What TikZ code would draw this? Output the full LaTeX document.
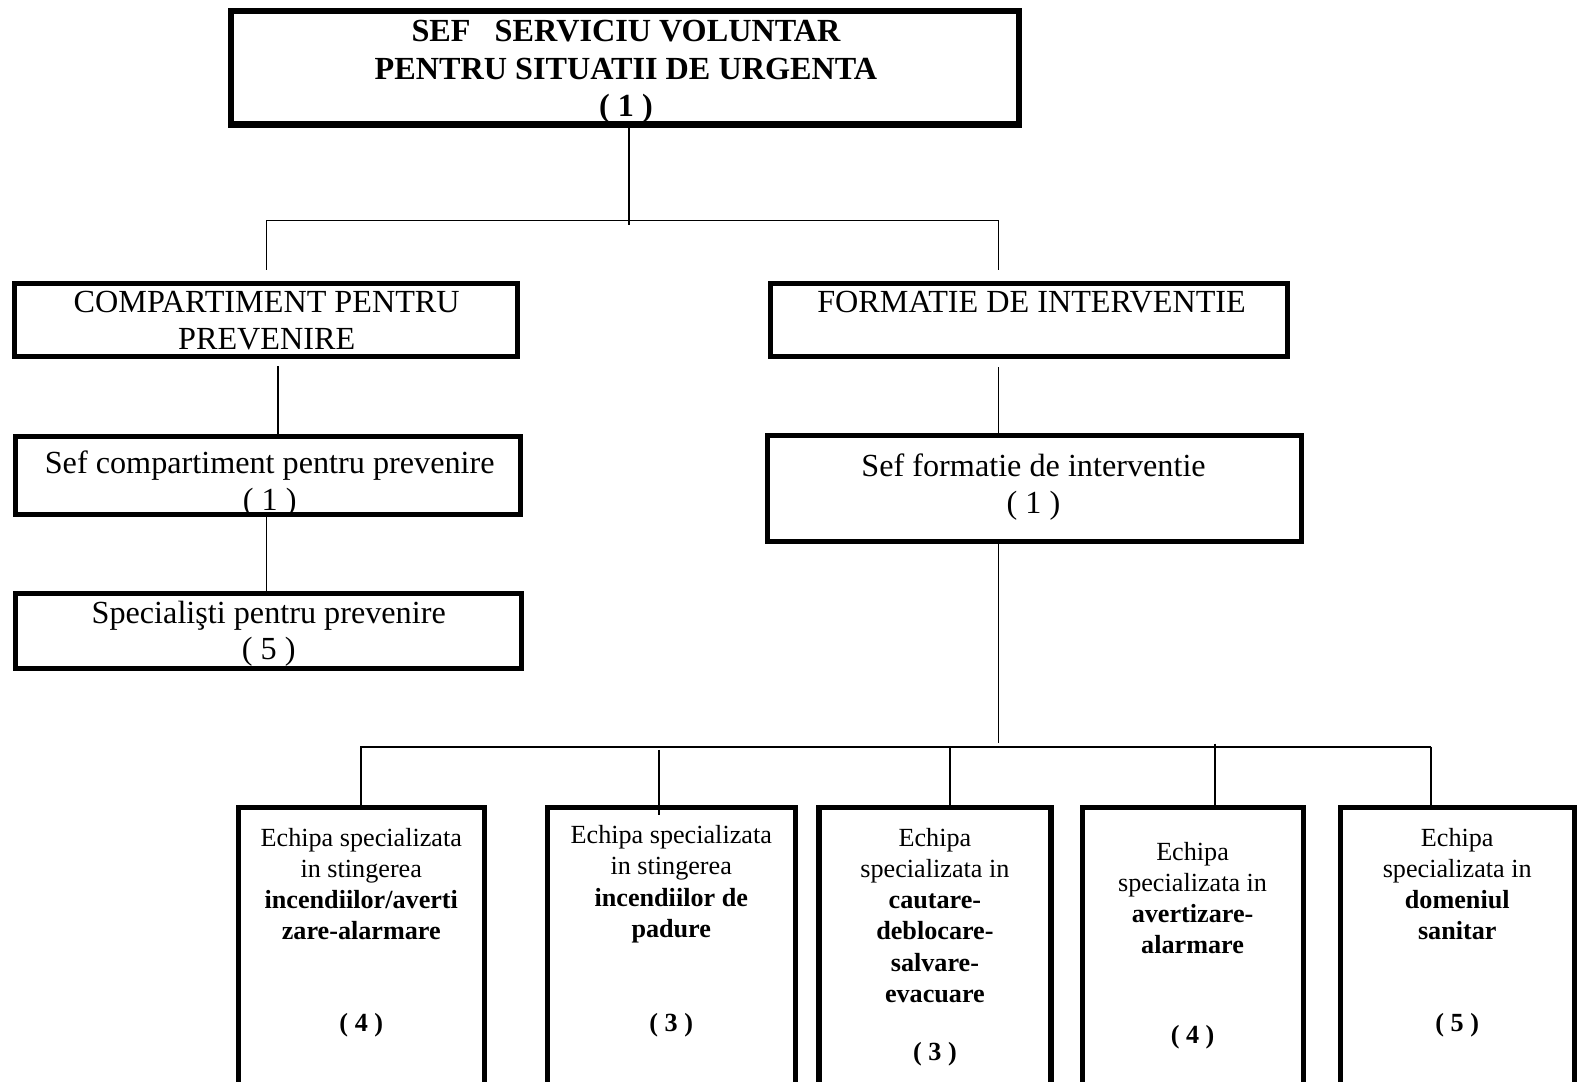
\documentclass[tikz,border=0pt]{standalone}
\usepackage{fontspec}
\setmainfont{Liberation Serif}
\begin{document}
\begin{tikzpicture}[x=0.5pt,y=-0.5pt]
\tikzset{
  box/.style={draw, line width=2.6pt, inner sep=0pt},
  topbox/.style={draw, line width=3.2pt, inner sep=0pt},
  conn/.style={line width=0.8pt},
  txt/.style={align=center, inner sep=0pt},
  bigb/.style={txt, font=\fontsize{16}{18.75}\selectfont\bfseries},
  mid/.style={txt, font=\fontsize{16}{18}\selectfont},
  small/.style={txt, font=\fontsize{13}{15.5}\selectfont},
  smallb/.style={txt, font=\fontsize{13}{15.5}\selectfont\bfseries},
}
\useasboundingbox (0,0) rectangle (1568,1075);
\clip (0,0) rectangle (1568,1075);

% boxes
\node[topbox, minimum width=391.7pt, minimum height=56.3pt] (top) at (621,67.5) {};
\node[box, minimum width=249.8pt, minimum height=36.3pt] (comp) at (264.5,318) {};
\node[box, minimum width=256.8pt, minimum height=36.3pt] (form) at (1022.5,318) {};
\node[box, minimum width=250.8pt, minimum height=38.8pt] (sefc) at (266.5,472.5) {};
\node[box, minimum width=251.3pt, minimum height=37.3pt] (spec) at (267,627) {};
\node[box, minimum width=265.3pt, minimum height=52.8pt] (seff) at (1028,485.5) {};
\node[box, minimum width=122.3pt, minimum height=157.3pt] (b1) at (359,960) {};
\node[box, minimum width=123.3pt, minimum height=157.3pt] (b2) at (667,960) {};
\node[box, minimum width=115.3pt, minimum height=157.3pt] (b3) at (929,960) {};
\node[box, minimum width=109.8pt, minimum height=157.3pt] (b4) at (1185.5,960) {};
\node[box, minimum width=116.3pt, minimum height=157.3pt] (b5) at (1448,960) {};

% texts
\node[bigb] (toptxt) at (622,71.5) {SEF\ \ \ SERVICIU VOLUNTAR\\PENTRU SITUATII DE URGENTA\\( 1 )};
\node[mid] (comptxt) at (265,318.5) {COMPARTIMENT PENTRU\\PREVENIRE};
\node[mid] (formtxt) at (1025,300) {FORMATIE DE INTERVENTIE};
\node[mid] (sefctxt) at (268,481) {Sef compartiment pentru prevenire\\( 1 )};
\node[mid] (spectxt) at (267,630) {Specialişti pentru prevenire\\( 5 )};
\node[mid] (sefftxt) at (1027,484) {Sef formatie de interventie\\( 1 )};

\node[small] (b1txt) at (359,878.5) {Echipa specializata\\in stingerea\\\textbf{incendiilor/averti}\\\textbf{zare-alarmare}};
\node[smallb] (b1num) at (359,1019) {( 4 )};
\node[small] (b2txt) at (667,878.5) {Echipa specializata\\in stingerea\\\textbf{incendiilor de}\\\textbf{padure}};
\node[smallb] (b2num) at (667,1019) {( 3 )};
\node[small] (b3txt) at (929,909.5) {Echipa\\specializata in\\\textbf{cautare-}\\\textbf{deblocare-}\\\textbf{salvare-}\\\textbf{evacuare}};
\node[smallb] (b3num) at (929,1048) {( 3 )};
\node[small] (b4txt) at (1185,892.5) {Echipa\\specializata in\\\textbf{avertizare-}\\\textbf{alarmare}};
\node[smallb] (b4num) at (1185,1031) {( 4 )};
\node[small] (b5txt) at (1448,878.5) {Echipa\\specializata in\\\textbf{domeniul}\\\textbf{sanitar}};
\node[smallb] (b5num) at (1448,1019) {( 5 )};

% junction coordinates
\coordinate (t0) at (625,224);
\coordinate (tl) at (265,219);
\coordinate (tr) at (992,219);
\coordinate (tle) at (265,268);
\coordinate (tre) at (992,268);
\coordinate (c1) at (276,364);
\coordinate (c2) at (276,431);
\coordinate (s1) at (265,0);
\coordinate (f1) at (992,365);
\coordinate (f2) at (992,430);
\coordinate (f3) at (992,738);
\coordinate (hl) at (358,742);
\coordinate (hr) at (1422,742);
\coordinate (v1) at (359,742);
\coordinate (v1e) at (359,802);
\coordinate (v2) at (655,745);
\coordinate (v2e) at (655,810);
\coordinate (v3) at (944,742);
\coordinate (v3e) at (944,800);
\coordinate (v4) at (1207,739);
\coordinate (v4e) at (1207,800);
\coordinate (v5) at (1422,742);
\coordinate (v5e) at (1422,802);

% connectors
\draw[conn] (top.south -| t0) -- (t0);
\draw[conn] (tl) -- (tr);
\draw[conn] (tl) -- (tle);
\draw[conn] (tr) -- (tre);
\draw[conn] (c1) -- (c2);
\draw[conn] (sefc.south -| s1) -- (spec.north -| s1);
\draw[conn] (f1) -- (f2);
\draw[conn] (seff.south -| f3) -- (f3);
\draw[conn] (hl) -- (hr);
\draw[conn] (v1) -- (v1e);
\draw[line width=1.2pt] (v2) -- (v2e);
\draw[conn] (v3) -- (v3e);
\draw[conn] (v4) -- (v4e);
\draw[conn] (v5) -- (v5e);
\end{tikzpicture}
\end{document}
